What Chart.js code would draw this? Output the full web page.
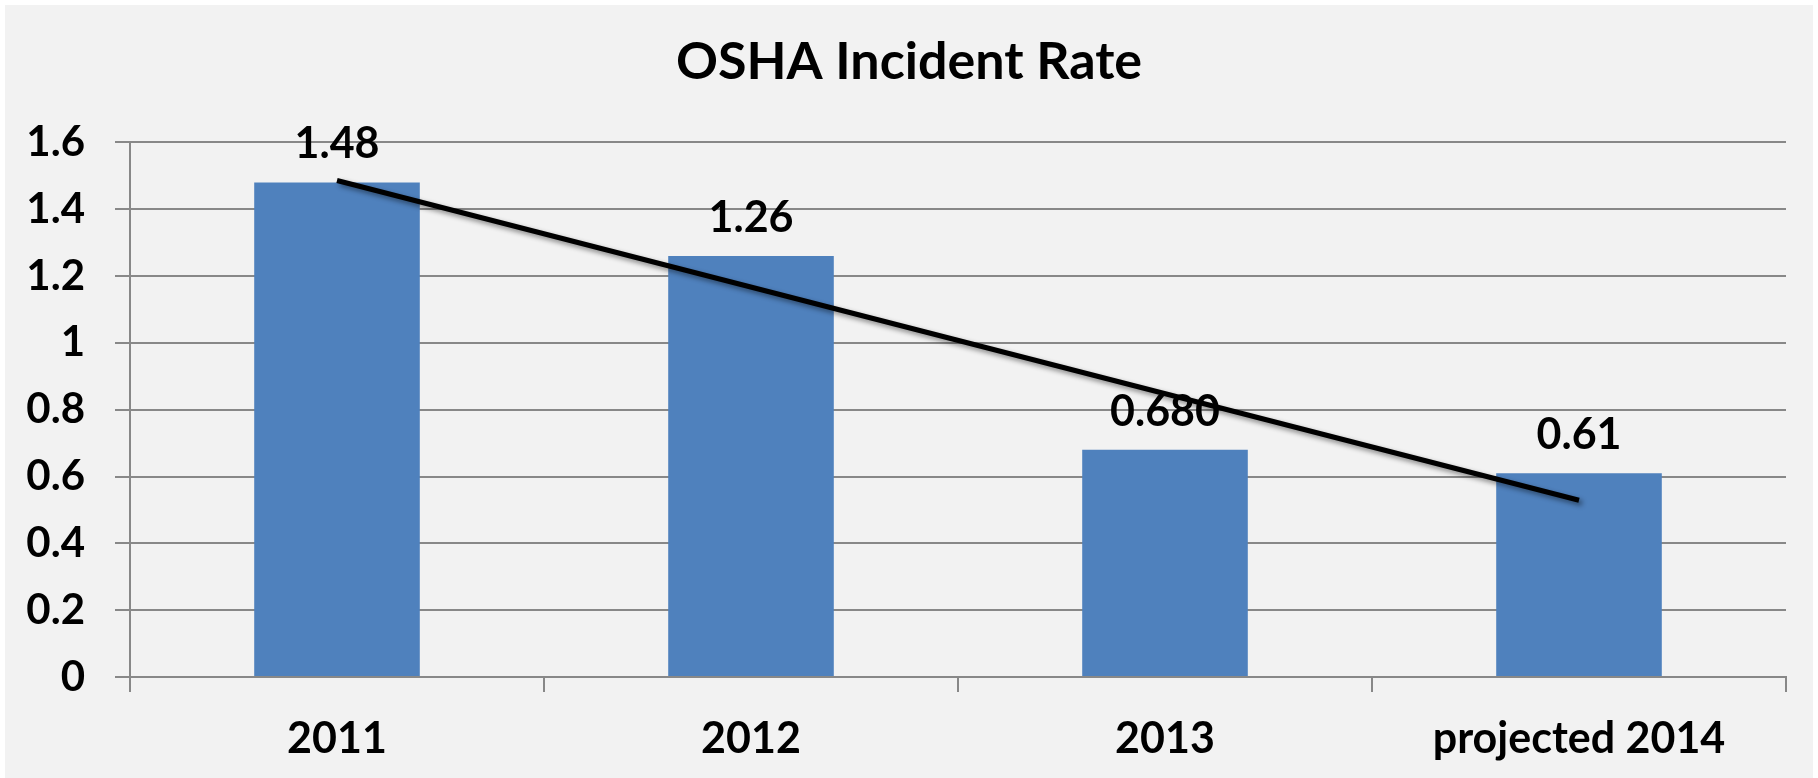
<!DOCTYPE html>
<html>
<head>
<meta charset="utf-8">
<script src="https://cdn.jsdelivr.net/npm/chart.js@4/dist/chart.umd.min.js"></script>
<style>
  html, body { margin: 0; padding: 0; background: #ffffff; }
  #wrap { position: absolute; left: 0; top: 0; width: 1818px; height: 778px; }
</style>
</head>
<body>
<div id="wrap"><canvas id="c" width="1818" height="778"></canvas></div>
<script>
const categories = ['2011', '2012', '2013', 'projected 2014'];
const incidentRate = [1.48, 1.26, 0.68, 0.61];
const rateLabels = ['1.48', '1.26', '0.680', '0.61'];
const trendValues = [1.486, null, null, 0.529];
const yTickLabels = ['0', '0.2', '0.4', '0.6', '0.8', '1', '1.2', '1.4', '1.6'];

const FONT = 'Lato, "Open Sans", sans-serif';
const AXIS_GRAY = '#888888';

const panelPlugin = {
  id: 'panel',
  beforeDraw(chart) {
    const ctx = chart.ctx;
    ctx.save();
    ctx.fillStyle = '#ffffff';
    ctx.fillRect(0, 0, chart.width, chart.height);
    ctx.fillStyle = '#f2f2f2';
    ctx.fillRect(5, 5, chart.width - 10, chart.height - 5);
    ctx.restore();
  }
};

const shadowAndLabels = {
  id: 'shadowAndLabels',
  beforeDatasetDraw(chart, args) {
    if (args.index === 1) {
      const ctx = chart.ctx;
      ctx.save();
      ctx.shadowColor = 'rgba(0,0,0,0.45)';
      ctx.shadowBlur = 5;
      ctx.shadowOffsetX = 3;
      ctx.shadowOffsetY = 3;
    }
  },
  afterDatasetDraw(chart, args) {
    const ctx = chart.ctx;
    if (args.index === 1) {
      ctx.restore();
      return;
    }
    if (args.index === 0) {
      const meta = chart.getDatasetMeta(0);
      ctx.save();
      ctx.fillStyle = '#000000';
      ctx.font = 'bold 43px ' + FONT;
      ctx.textAlign = 'center';
      ctx.textBaseline = 'alphabetic';
      meta.data.forEach((bar, i) => {
        ctx.fillText(rateLabels[i], bar.x, bar.y - 24);
      });
      ctx.restore();
    }
  }
};

new Chart(document.getElementById('c'), {
  data: {
    labels: categories,
    datasets: [
      {
        type: 'bar',
        label: 'OSHA Incident Rate',
        data: incidentRate,
        backgroundColor: '#4f81bd',
        borderWidth: 0,
        barPercentage: 0.4,
        categoryPercentage: 1.0,
        yAxisID: 'y',
        order: 2
      },
      {
        type: 'line',
        label: 'Linear trend',
        data: trendValues,
        spanGaps: true,
        borderColor: '#000000',
        borderWidth: 5,
        pointRadius: 0,
        fill: false,
        tension: 0,
        yAxisID: 'y',
        order: 1
      }
    ]
  },
  options: {
    responsive: false,
    animation: false,
    devicePixelRatio: 1,
    layout: { padding: { left: 0, right: 0, top: 0, bottom: 0 } },
    plugins: {
      legend: { display: false },
      tooltip: { enabled: false },
      title: {
        display: true,
        text: 'OSHA Incident Rate',
        color: '#000000',
        font: { family: FONT, size: 52, weight: 'bold', lineHeight: 1.2 },
        padding: { top: 31, bottom: 49 }
      }
    },
    scales: {
      x: {
        offset: true,
        grid: {
          offset: true,
          drawOnChartArea: false,
          drawTicks: true,
          tickLength: 15,
          color: AXIS_GRAY,
          lineWidth: 2
        },
        border: { display: true, color: AXIS_GRAY, width: 2 },
        ticks: {
          color: '#000000',
          padding: 21,
          maxRotation: 0,
          font: { family: FONT, size: 43, weight: 'bold', lineHeight: 1.2 }
        },
        afterFit(scale) { scale.height = 101; }
      },
      y: {
        position: 'left',
        min: 0,
        max: 1.6,
        ticks: {
          stepSize: 0.2,
          color: '#000000',
          padding: 30,
          font: { family: FONT, size: 42, weight: 'bold', lineHeight: 1.2 },
          callback: (v, i) => yTickLabels[i]
        },
        grid: {
          color: AXIS_GRAY,
          lineWidth: 2,
          tickLength: 15,
          drawTicks: true
        },
        border: { display: true, color: AXIS_GRAY, width: 2 },
        afterFit(scale) { scale.width = 130; }
      },
      spacer: {
        type: 'linear',
        position: 'right',
        display: true,
        min: 0,
        max: 1,
        grid: { display: false, drawTicks: false },
        border: { display: false },
        ticks: { display: false },
        afterFit(scale) { scale.width = 32; }
      }
    }
  },
  plugins: [panelPlugin, shadowAndLabels]
});
</script>
</body>
</html>
